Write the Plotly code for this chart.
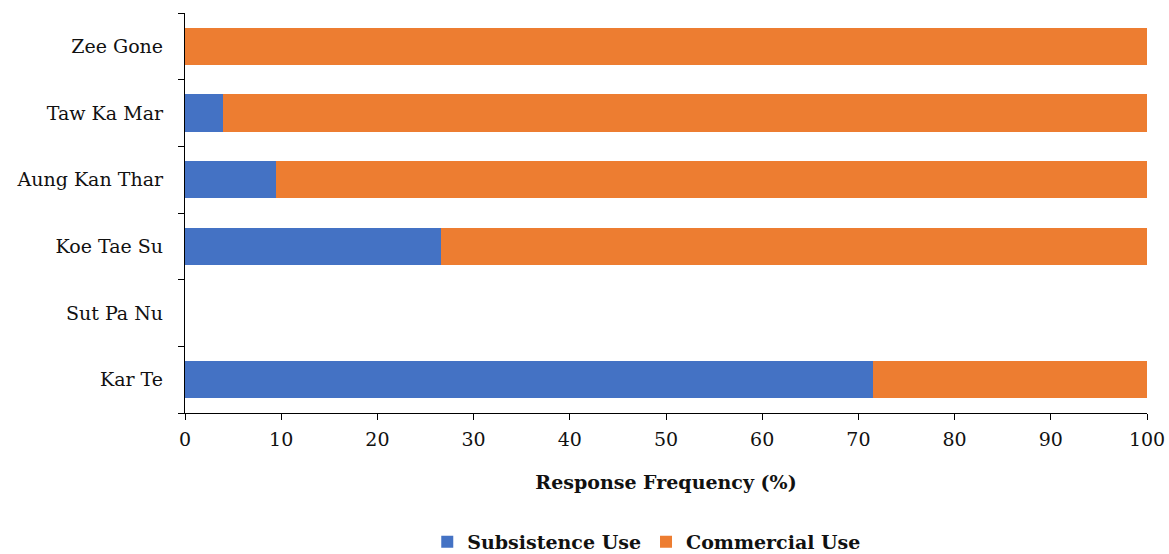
import plotly.graph_objects as go

# Sites listed bottom-to-top as they appear on the category axis
sites = ["Kar Te", "Sut Pa Nu", "Koe Tae Su", "Aung Kan Thar", "Taw Ka Mar", "Zee Gone"]
subsistence = [71.5, 0, 26.6, 9.5, 4.0, 0]
commercial = [28.5, 0, 73.4, 90.5, 96.0, 100]
x_ticks = [0, 10, 20, 30, 40, 50, 60, 70, 80, 90, 100]

FONT = "DejaVu Serif"

fig = go.Figure()
fig.add_trace(go.Bar(
    y=sites, x=subsistence, name="Subsistence Use", orientation="h",
    marker=dict(color="#4472C4", line=dict(width=0)),
))
fig.add_trace(go.Bar(
    y=sites, x=commercial, name="Commercial Use", orientation="h",
    marker=dict(color="#ED7D31", line=dict(width=0)),
))

fig.update_layout(
    barmode="stack",
    bargap=0.44,
    width=1169, height=554,
    margin=dict(l=185, r=22, t=13, b=141, autoexpand=False),
    paper_bgcolor="white", plot_bgcolor="white",
    font=dict(family=FONT, color="#111111"),
    legend=dict(
        orientation="h", x=0.48, xanchor="center", y=-0.322, yanchor="middle",
        font=dict(family=FONT, size=19, color="#111111", weight="bold"),
        traceorder="normal", itemwidth=30,
    ),
    showlegend=True,
)
fig.update_xaxes(
    range=[0, 100], tickvals=x_ticks, automargin=False,
    showline=True, linecolor="black", linewidth=1.3,
    ticks="outside", ticklen=6, tickcolor="black", tickwidth=1.3,
    showgrid=False, zeroline=False,
    tickfont=dict(family=FONT, size=19, color="#111111"),
    ticklabelstandoff=3,
    title=dict(text="<b>Response Frequency (%)</b>", standoff=26,
               font=dict(family=FONT, size=19, color="#111111")),
)
fig.update_yaxes(
    type="category", categoryorder="array", categoryarray=sites,
    automargin=False,
    showline=True, linecolor="black", linewidth=1.3,
    ticks="outside", ticklen=6, tickcolor="black", tickwidth=1.3,
    tickson="boundaries", showgrid=False,
    tickfont=dict(family=FONT, size=19, color="#111111"),
    ticklabelstandoff=17,
)

fig.write_html("out.html")
